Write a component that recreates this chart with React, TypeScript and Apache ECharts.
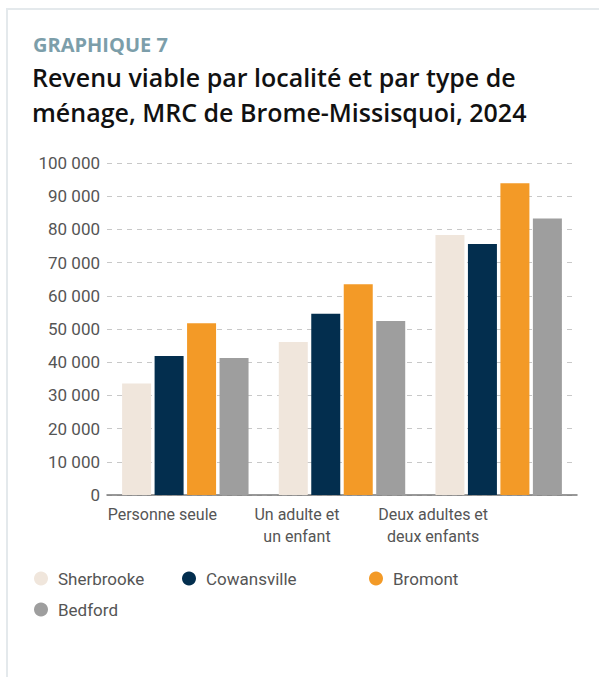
import React, { useEffect, useRef } from "react";
import * as echarts from "echarts";

const categories = ["Personne seule", "Un adulte et\nun enfant", "Deux adultes et\ndeux enfants"];
const seriesNames = ["Sherbrooke", "Cowansville", "Bromont", "Bedford"];
const sherbrooke = [33600, 46100, 78300];
const cowansville = [41900, 54600, 75600];
const bromont = [51700, 63500, 93900];
const bedford = [41300, 52400, 83300];
const colors = ["#f0e6dc", "#032e4e", "#f39a27", "#9e9e9e"];
const yTicks = { min: 0, max: 100000, interval: 10000 };

const FONT = "Roboto, 'Noto Sans', sans-serif";
const TITLE_FONT = "'Open Sans', Roboto, sans-serif";

export default function App() {
  const ref = useRef<HTMLDivElement>(null);
  useEffect(() => {
    document.body.style.margin = "0";
    if (!ref.current) return;
    const chart = echarts.init(ref.current, undefined, { renderer: "svg" });
    const values = [sherbrooke, cowansville, bromont, bedford];
    const legendPos = [
      { left: 34, top: 570 },
      { left: 182, top: 570 },
      { left: 369, top: 570 },
      { left: 34, top: 601 },
    ];
    const labelShift = [46, 90, 131];
    chart.setOption({
      animation: false,
      backgroundColor: "#ffffff",
      textStyle: { fontFamily: FONT },
      graphic: [
        {
          type: "rect",
          shape: { x: 7, y: 9, width: 620, height: 700 },
          style: { fill: "none", stroke: "#e4e9ec", lineWidth: 2 },
          silent: true,
        },
        {
          type: "text",
          left: 33,
          top: 34,
          style: { text: "GRAPHIQUE 7", fill: "#7c9eaa", font: `bold 20px ${TITLE_FONT}` },
        },
        {
          type: "text",
          left: 32,
          top: 59,
          style: {
            text: "Revenu viable par localité et par type de\nménage, MRC de Brome-Missisquoi, 2024",
            fill: "#111111",
            font: `600 25px ${TITLE_FONT}`,
            lineHeight: 35,
          },
        },
      ],
      legend: seriesNames.map((n, i) => ({
        data: [n],
        left: legendPos[i].left,
        top: legendPos[i].top,
        icon: "circle",
        itemWidth: 14,
        itemHeight: 14,
        itemGap: 0,
        padding: 0,
        selectedMode: false,
        textStyle: { fontSize: 17, color: "#555555", fontFamily: FONT, padding: [0, 0, 0, 5] },
      })),
      grid: { left: 107, right: 22, top: 163, bottom: 182, containLabel: false, outerBoundsMode: "none" },
      xAxis: {
        type: "category",
        data: categories.map((c, i) => ({ value: c, textStyle: { padding: [0, labelShift[i], 0, 0] } })),
        axisLine: { lineStyle: { color: "#777777", width: 1.5 } },
        axisTick: { show: false },
        axisLabel: { color: "#555555", fontSize: 16, lineHeight: 22, margin: 8, interval: 0, hideOverlap: false },
      },
      yAxis: {
        type: "value",
        min: yTicks.min,
        max: yTicks.max,
        interval: yTicks.interval,
        axisLine: { show: false },
        axisTick: { show: false },
        axisLabel: {
          color: "#555555",
          fontSize: 17,
          margin: 7,
          formatter: (v: number) => String(v).replace(/\B(?=(\d{3})+(?!\d))/g, " "),
        },
        splitLine: { lineStyle: { color: "#c8c8c8", type: [5, 5], width: 1 } },
      },
      series: seriesNames.map((n, i) => ({
        name: n,
        type: "bar",
        data: values[i],
        barWidth: 29,
        barGap: "12%",
        itemStyle: { color: colors[i] },
      })),
    });
    return () => chart.dispose();
  }, []);
  return <div ref={ref} style={{ width: 599, height: 677 }} />;
}
